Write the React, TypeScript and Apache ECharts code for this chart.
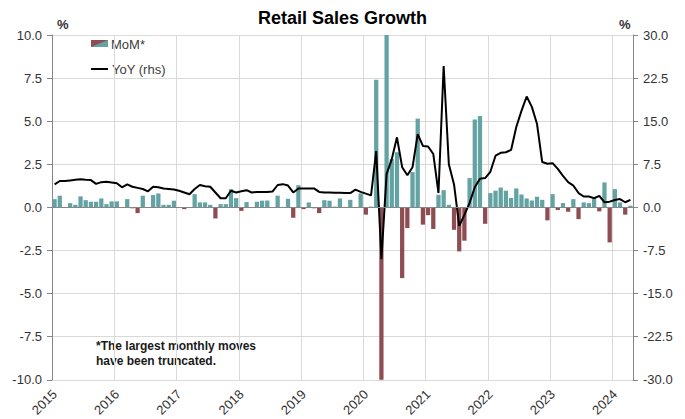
import React, { useEffect, useRef } from "react";
import * as echarts from "echarts";

const START_YEAR = 2015;
const END_YEAR = 2024;

// Month-on-month % change (left axis), one array per year
const mom2015 = [0.48, 0.68, 0.02, 0.25, 0.15, 0.64, 0.42, 0.33, 0.33, 0.52, 0.19, 0.35];
const mom2016 = [0.35, 0.0, 0.48, -0.05, -0.33, 0.68, 0.02, 0.72, 0.81, 0.15, 0.15, 0.39];
const mom2017 = [0.0, -0.1, 0.0, 0.77, 0.29, 0.29, 0.15, -0.64, 0.19, 0.19, 1.06, 0.54];
const mom2018 = [-0.2, 0.31, 0.02, 0.33, 0.39, 0.4, 0.02, 0.68, 0.03, 0.5, -0.6, 1.29];
const mom2019 = [-0.1, 0.29, -0.05, -0.33, 0.42, 0.39, 0.05, 0.52, 0.03, 0.44, 0.02, 0.81];
const mom2020 = [-0.42, 0.05, 7.4, -10, 10, 2.8, 3.2, -4.1, -1.2, 2.05, 5.15, -1.0];
const mom2021 = [-0.45, -1.25, 0.73, 1.0, 0.15, -1.3, -2.55, -1.93, 1.7, 5.1, 5.3, -0.95];
const mom2022 = [0.83, 0.97, 1.15, 0.97, 0.55, 1.1, 0.75, 0.52, 0.4, 0.62, 0.44, -0.75];
const mom2023 = [0.77, -0.15, 0.25, -0.25, 0.48, -0.68, 0.29, 0.25, 0.48, -0.23, 1.45, -2.03];
const mom2024 = [1.06, 0.29, -0.42, 0.1];

// Year-on-year % change (right axis)
const yoy2015 = [4.0, 4.6, 4.6, 4.7, 4.8, 4.9, 4.8, 4.75, 4.1, 4.4, 4.45, 4.35];
const yoy2016 = [4.2, 3.5, 4.0, 3.6, 3.4, 3.2, 2.8, 3.6, 3.5, 3.3, 3.2, 3.1];
const yoy2017 = [2.9, 2.6, 2.3, 3.2, 3.9, 3.7, 3.6, 2.6, 1.6, 1.6, 2.9, 2.6];
const yoy2018 = [2.8, 3.0, 2.6, 2.7, 2.7, 2.7, 2.75, 3.9, 4.05, 3.8, 2.6, 3.3];
const yoy2019 = [3.3, 3.3, 3.3, 2.7, 2.6, 2.6, 2.55, 2.55, 2.5, 2.5, 3.1, 2.7];
const yoy2020 = [2.4, 2.1, 9.8, -9.0, 5.8, 8.4, 12.2, 7.0, 5.6, 7.0, 12.75, 10.7];
const yoy2021 = [10.6, 9.3, 2.5, 24.6, 7.5, 4.0, -3.2, -1.3, 0.8, 3.5, 5.0, 5.1];
const yoy2022 = [6.2, 9.0, 9.5, 9.6, 10.0, 14.0, 16.8, 19.3, 17.5, 14.5, 7.9, 7.6];
const yoy2023 = [7.7, 6.7, 5.5, 4.4, 3.8, 2.5, 1.9, 1.9, 1.6, 2.0, 0.9, 1.0];
const yoy2024 = [1.3, 1.45, 0.9, 1.3];

const momValues = [
  ...mom2015, ...mom2016, ...mom2017, ...mom2018, ...mom2019,
  ...mom2020, ...mom2021, ...mom2022, ...mom2023, ...mom2024,
];
const yoyValues = [
  ...yoy2015, ...yoy2016, ...yoy2017, ...yoy2018, ...yoy2019,
  ...yoy2020, ...yoy2021, ...yoy2022, ...yoy2023, ...yoy2024,
];

const categories: string[] = [];
for (let y = START_YEAR; y <= END_YEAR; y++) {
  for (let m = 1; m <= 12; m++) {
    if (categories.length < momValues.length) {
      categories.push(`${y}-${String(m).padStart(2, "0")}`);
    }
  }
}

const TITLE = "Retail Sales Growth";
const NOTE = "*The largest monthly moves\nhave been truncated.";
const MOM_NAME = "MoM*";
const YOY_NAME = "YoY (rhs)";
const POS_COLOR = "#63a3a3";
const NEG_COLOR = "#8e4d52";
const FONT = "Liberation Sans, Arial, sans-serif";

export default function App() {
  const ref = useRef<HTMLDivElement>(null);
  useEffect(() => {
    if (!ref.current) return;
    const chart = echarts.init(ref.current, undefined, { renderer: "svg" });
    const legendGradient = new echarts.graphic.LinearGradient(0, 0, 1, 1, [
      { offset: 0, color: NEG_COLOR },
      { offset: 0.45, color: NEG_COLOR },
      { offset: 0.55, color: POS_COLOR },
      { offset: 1, color: POS_COLOR },
    ]);
    chart.setOption({
      animation: false,
      backgroundColor: "#ffffff",
      textStyle: { fontFamily: FONT },
      title: {
        text: TITLE,
        left: "center",
        top: 4,
        textStyle: { fontSize: 18, fontWeight: "bold", color: "#000", fontFamily: FONT },
      },
      grid: { left: 52, right: 52, top: 35, bottom: 39, containLabel: false },
      xAxis: {
        type: "category",
        data: categories,
        boundaryGap: true,
        axisLine: { show: false },
        axisTick: { show: false, interval: 11 },
        splitLine: { show: true, interval: 11, lineStyle: { color: "#d9d9d9", width: 1 } },
        axisLabel: {
          interval: 11,
          rotate: 45,
          margin: 12,
          fontSize: 13,
          color: "#333",
          fontFamily: FONT,
          formatter: (v: string) => v.slice(0, 4),
        },
      },
      yAxis: [
        {
          type: "value",
          min: -10,
          max: 10,
          interval: 2.5,
          axisLine: { show: true, lineStyle: { color: "#868686" } },
          axisTick: { show: true, length: 5, lineStyle: { color: "#868686" } },
          splitLine: { show: true, lineStyle: { color: "#d9d9d9" } },
          axisLabel: {
            margin: 10,
            fontSize: 13,
            color: "#333",
            fontFamily: FONT,
            formatter: (v: number) => v.toFixed(1),
          },
        },
        {
          type: "value",
          min: -30,
          max: 30,
          interval: 7.5,
          axisLine: { show: true, lineStyle: { color: "#868686" } },
          axisTick: { show: true, length: 5, lineStyle: { color: "#868686" } },
          splitLine: { show: false },
          axisLabel: {
            margin: 10,
            fontSize: 13,
            color: "#333",
            fontFamily: FONT,
            formatter: (v: number) => v.toFixed(1),
          },
        },
      ],
      graphic: [
        {
          type: "text",
          left: 57,
          top: 18,
          style: { text: "%", fill: "#333", font: `bold 13px ${FONT}` },
        },
        {
          type: "text",
          left: 619,
          top: 18,
          style: { text: "%", fill: "#333", font: `bold 13px ${FONT}` },
        },
        // legend
        {
          type: "rect",
          shape: { x: 91, y: 40, width: 17, height: 7 },
          style: { fill: legendGradient },
        },
        {
          type: "text",
          x: 111,
          y: 44,
          style: {
            text: MOM_NAME,
            fill: "#404040",
            font: `13px ${FONT}`,
            textVerticalAlign: "middle",
          },
        },
        {
          type: "line",
          shape: { x1: 91, y1: 69, x2: 108, y2: 69 },
          style: { stroke: "#000", lineWidth: 2 },
        },
        {
          type: "text",
          x: 112,
          y: 69,
          style: {
            text: YOY_NAME,
            fill: "#404040",
            font: `13px ${FONT}`,
            textVerticalAlign: "middle",
          },
        },
        {
          type: "text",
          left: 96,
          top: 338,
          style: {
            text: NOTE,
            fill: "#1a1a1a",
            font: `bold 12px ${FONT}`,
            lineHeight: 15,
          },
        },
      ],
      series: [
        {
          name: MOM_NAME,
          type: "bar",
          yAxisIndex: 0,
          data: momValues,
          barCategoryGap: "18%",
          itemStyle: {
            color: (p: any) => (p.value < 0 ? NEG_COLOR : POS_COLOR),
          },
          markLine: {
            silent: true,
            symbol: "none",
            label: { show: false },
            lineStyle: { color: "#868686", type: "solid", width: 1 },
            data: [{ yAxis: 0 }],
          },
          z: 2,
        },
        {
          name: YOY_NAME,
          type: "line",
          yAxisIndex: 1,
          data: yoyValues,
          symbol: "none",
          showSymbol: false,
          lineStyle: { color: "#000", width: 2 },
          itemStyle: { color: "#000" },
          z: 3,
        },
      ],
    });
    return () => chart.dispose();
  }, []);
  return (
    <div
      ref={ref}
      style={{ position: "fixed", left: 0, top: 0, width: 685, height: 419, background: "#fff" }}
    />
  );
}
